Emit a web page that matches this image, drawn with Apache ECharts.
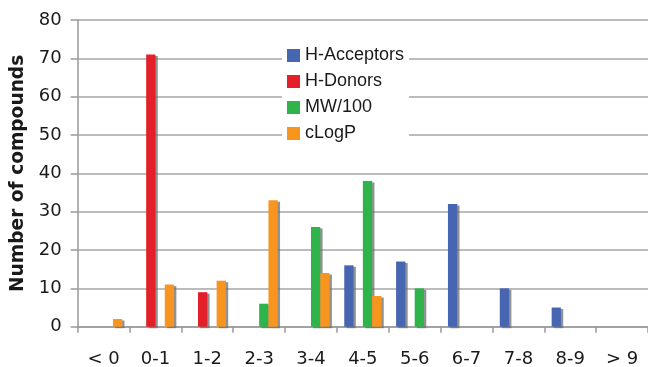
<!DOCTYPE html>
<html>
<head>
<meta charset="utf-8">
<script src="https://cdn.jsdelivr.net/npm/echarts@6/dist/echarts.min.js"></script>
<style>html,body{margin:0;padding:0;background:#fff;}#c{width:648px;height:367px;}</style>
</head>
<body>
<div id="c"></div>
<script>
var categories = ['< 0', '0-1', '1-2', '2-3', '3-4', '4-5', '5-6', '6-7', '7-8', '8-9', '> 9'];
var hAcceptors = [0, 0, 0, 0, 0, 16, 17, 32, 10, 5, 0];
var hDonors    = [0, 71, 9, 0, 0, 0, 0, 0, 0, 0, 0];
var mw100      = [0, 0, 0, 6, 26, 38, 10, 0, 0, 0, 0];
var clogp      = [2, 11, 12, 33, 14, 8, 0, 0, 0, 0, 0];
var seriesNames = ['H-Acceptors', 'H-Donors', 'MW/100', 'cLogP'];
var seriesColors = ['#4766b1', '#e3202a', '#2fb34b', '#f7951f'];

function toData(arr) { return arr.map(function (v) { return v === 0 ? null : v; }); }
var allData = [hAcceptors, hDonors, mw100, clogp];

var chart = echarts.init(document.getElementById('c'));
chart.setOption({
  animation: false,
  grid: { left: 77.7, top: 20, right: 0, bottom: 40.3, containLabel: false, outerBoundsMode: 'none' },
  legend: {
    orient: 'vertical',
    left: 282, top: 41.5,
    padding: [5, 5, 5, 5],
    backgroundColor: '#ffffff',
    itemWidth: 13, itemHeight: 13, itemGap: 8,
    icon: 'rect',
    textStyle: { fontFamily: 'Liberation Sans', fontSize: 18, color: '#1a1a1a', padding: [0, 0, 0, 0] },
    data: seriesNames
  },
  xAxis: {
    type: 'category',
    data: categories,
    boundaryGap: true,
    axisLine: { lineStyle: { color: '#999', width: 1.5 } },
    axisTick: { show: true, length: 6, alignWithLabel: false, lineStyle: { color: '#999', width: 1.5 } },
    axisLabel: { fontFamily: 'DejaVu Sans', fontSize: 18, color: '#1a1a1a', margin: 24, interval: 0 }
  },
  yAxis: {
    type: 'value',
    min: 0, max: 80, interval: 10,
    name: 'Number of compounds',
    nameLocation: 'middle',
    nameGap: 47,
    nameTextStyle: { fontFamily: 'DejaVu Sans', fontWeight: 'bold', fontSize: 18.6, color: '#1a1a1a' },
    axisLine: { show: true, lineStyle: { color: '#999', width: 1.5 } },
    axisTick: { show: true, length: 7, lineStyle: { color: '#999', width: 1.5 } },
    axisLabel: { fontFamily: 'DejaVu Sans', fontSize: 18, color: '#1a1a1a', margin: 16 },
    splitLine: { show: true, lineStyle: { color: '#a6a6a6', width: 1.5 } }
  },
  series: seriesNames.map(function (n, i) {
    return {
      name: n,
      type: 'bar',
      data: toData(allData[i]),
      barWidth: 9.3,
      barGap: '0%',
      itemStyle: {
        color: seriesColors[i],
        shadowColor: 'rgba(110,110,110,0.75)',
        shadowOffsetX: 2.3,
        shadowOffsetY: 1.5,
        shadowBlur: 0
      }
    };
  })
});
</script>
</body>
</html>
